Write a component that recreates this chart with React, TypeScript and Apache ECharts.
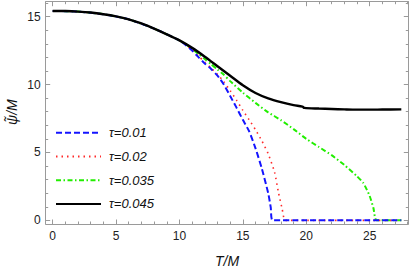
import React, { useEffect, useRef } from "react";
import * as echarts from "echarts";

// ---- data ----
const seriesNames = ["τ=0.01", "τ=0.02", "τ=0.035", "τ=0.045"];
const xAxisTitle = "T/M";
const yAxisTitle = "ψ\u0303/M";

const blackT = [0, 1, 2, 3, 4, 5, 6, 7, 8, 9, 10, 11, 12, 13, 14, 15, 16, 17, 18, 19, 19.7, 19.85, 21, 22, 23, 24, 25, 26, 27.5];
const blackPsi = [15.42, 15.41, 15.37, 15.3, 15.18, 15.02, 14.8, 14.5, 14.12, 13.7, 13.25, 12.7, 12.05, 11.35, 10.65, 9.95, 9.38, 8.98, 8.7, 8.48, 8.37, 8.28, 8.23, 8.2, 8.17, 8.15, 8.15, 8.16, 8.17];

const blueT = [0, 2, 4, 6, 8, 10, 10.5, 11, 11.5, 12, 12.5, 13, 13.5, 14, 14.5, 15, 15.5, 16, 16.5, 17, 17.2, 17.35, 20, 25, 27.5];
const bluePsi = [15.42, 15.37, 15.18, 14.8, 14.12, 13.25, 12.9, 12.5, 12.02, 11.55, 11.15, 10.65, 10.0, 9.15, 8.3, 7.4, 6.55, 5.3, 3.8, 2.0, 0.95, 0, 0, 0, 0];

const redT = [0, 2, 4, 6, 8, 10, 10.5, 11, 11.5, 12, 12.5, 13, 13.5, 14, 14.5, 15, 15.5, 16, 16.5, 17, 17.5, 17.8, 18.1, 18.35, 20, 25, 27.5];
const redPsi = [15.42, 15.37, 15.18, 14.8, 14.12, 13.25, 12.92, 12.55, 12.1, 11.65, 11.2, 10.75, 10.2, 9.55, 8.85, 8.1, 7.4, 6.67, 5.85, 4.9, 3.55, 2.1, 0.85, 0, 0, 0, 0];

const greenT = [0, 2, 4, 6, 8, 10, 10.5, 11, 11.5, 12, 12.5, 13, 13.5, 14, 15, 16, 17, 18, 19, 20, 21, 22, 23, 24, 24.5, 25, 25.3, 25.55, 27.5];
const greenPsi = [15.42, 15.37, 15.18, 14.8, 14.12, 13.25, 12.95, 12.62, 12.25, 11.88, 11.5, 11.1, 10.72, 10.25, 9.4, 8.65, 7.95, 7.38, 6.72, 6.0, 5.4, 4.8, 4.08, 3.25, 2.75, 1.8, 0.9, 0, 0];

const xMajorTicks = [0, 5, 10, 15, 20, 25];
const xMinorTicks = [1, 2, 3, 4, 6, 7, 8, 9, 11, 12, 13, 14, 16, 17, 18, 19, 21, 22, 23, 24, 26, 27, 28];
const yMajorTicks = [0, 5, 10, 15];
const yMinorTicks = [1, 2, 3, 4, 6, 7, 8, 9, 11, 12, 13, 14, 16];

const X_MIN = -0.55;
const X_MAX = 28.05;
const Y_MIN = -0.27;
const Y_MAX = 16.1;

const FRAME = "#9a9a9a";
const FONT = "Liberation Sans";

function pairs(xs: number[], ys: number[]) {
  return xs.map((x, i) => [x, ys[i]]);
}

function makeAxis(kind: "x" | "y", position: string, ticks: number[], len: number, labels: boolean, main: boolean) {
  const ax: any = {
    type: "value",
    position,
    min: kind === "x" ? X_MIN : Y_MIN,
    max: kind === "x" ? X_MAX : Y_MAX,
    splitLine: { show: false },
    axisLine: { show: main, onZero: false, lineStyle: { color: FRAME, width: 1 } },
    axisTick: {
      show: true,
      inside: true,
      length: len,
      customValues: ticks,
      lineStyle: { color: FRAME, width: 1 },
    },
    axisLabel: labels
      ? {
          show: true,
          customValues: ticks,
          margin: kind === "x" ? 6 : 5,
          color: "#222",
          fontSize: 12,
          fontFamily: FONT,
        }
      : { show: false },
  };
  return ax;
}

export default function App() {
  const ref = useRef<HTMLDivElement>(null);

  useEffect(() => {
    if (!ref.current) return;
    const chart = echarts.init(ref.current, undefined, { renderer: "svg" });

    const xMain = makeAxis("x", "bottom", xMajorTicks, 4.5, true, true);
    xMain.name = xAxisTitle;
    xMain.nameLocation = "middle";
    xMain.nameGap = 30;
    xMain.nameTextStyle = { fontStyle: "italic", fontSize: 14, fontFamily: FONT, color: "#111" };

    const yMain = makeAxis("y", "left", yMajorTicks, 4.5, true, true);

    const option: any = {
      animation: false,
      backgroundColor: "#fff",
      grid: { left: 45.7, top: 1.7, width: 362.6, height: 222.6, containLabel: false },
      xAxis: [
        xMain,
        makeAxis("x", "bottom", xMinorTicks, 2.5, false, false),
        makeAxis("x", "top", xMajorTicks, 4.5, false, true),
        makeAxis("x", "top", xMinorTicks, 2.5, false, false),
      ],
      yAxis: [
        yMain,
        makeAxis("y", "left", yMinorTicks, 2.5, false, false),
        makeAxis("y", "right", yMajorTicks, 4.5, false, true),
        makeAxis("y", "right", yMinorTicks, 2.5, false, false),
      ],
      graphic: [
        {
          type: "text",
          x: 12,
          y: 125,
          rotation: Math.PI / 2,
          style: {
            text: yAxisTitle,
            align: "left",
            verticalAlign: "middle",
            fontStyle: "italic",
            fontSize: 14,
            fontFamily: FONT,
            fill: "#111",
          },
        },
      ],
      legend: {
        orient: "vertical",
        left: 55,
        top: 126.3,
        padding: 0,
        itemWidth: 45,
        itemHeight: 14,
        itemGap: 10.7,
        data: seriesNames,
        itemStyle: { opacity: 0 },
        textStyle: {
          fontStyle: "italic",
          fontSize: 13,
          fontFamily: FONT,
          color: "#111",
          padding: [0, 0, 0, 3],
        },
      },
      series: [
        {
          name: seriesNames[2],
          type: "line",
          data: pairs(greenT, greenPsi),
          symbol: "none",
          smooth: 0.2,
          z: 2,
          lineStyle: { color: "#22ee00", width: 2, type: [5, 2.5, 1.5, 2.5] },
          itemStyle: { color: "#22ee00" },
        },
        {
          name: seriesNames[1],
          type: "line",
          data: pairs(redT, redPsi),
          symbol: "none",
          smooth: 0.2,
          z: 3,
          lineStyle: { color: "#ff2a2a", width: 1.6, type: [1.5, 4] },
          itemStyle: { color: "#ff2a2a" },
        },
        {
          name: seriesNames[0],
          type: "line",
          data: pairs(blueT, bluePsi),
          symbol: "none",
          smooth: 0.2,
          z: 4,
          lineStyle: { color: "#1414ff", width: 2, type: [6, 3] },
          itemStyle: { color: "#1414ff" },
        },
        {
          name: seriesNames[3],
          type: "line",
          data: pairs(blackT, blackPsi),
          symbol: "none",
          smooth: 0.3,
          z: 5,
          lineStyle: { color: "#000", width: 2.4 },
          itemStyle: { color: "#000" },
        },
      ],
    };

    chart.setOption(option);
    return () => chart.dispose();
  }, []);

  return (
    <div
      ref={ref}
      style={{ position: "fixed", left: 0, top: 0, width: 409, height: 273 }}
    />
  );
}
